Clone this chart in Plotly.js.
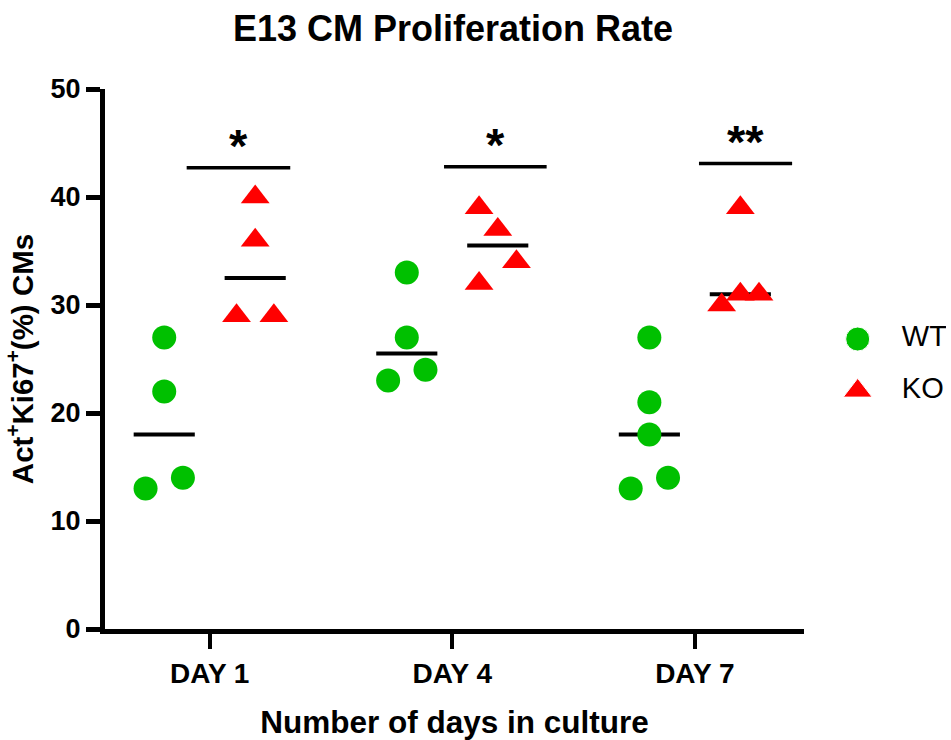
<!DOCTYPE html>
<html><head><meta charset="utf-8">
<script src="https://cdn.plot.ly/plotly-3.0.1.min.js"></script>
<style>html,body{margin:0;padding:0;background:#fff}</style>
</head><body>
<div id="chart" style="width:951px;height:740px"></div>
<script>
// ---- data ----
const categories = ['DAY 1', 'DAY 4', 'DAY 7'];
const seriesNames = ['WT', 'KO'];
const wtValues = [[27, 22, 13, 14], [33, 27, 24, 23], [27, 21, 18, 14, 13]];
const koValues = [[40, 36, 29, 29], [39, 37, 34, 32], [39, 31, 31, 30]];
const significance = ['*', '*', '**'];
const yTicks = [0, 10, 20, 30, 40, 50];

// ---- layout-only helpers (positions, not data) ----
const wtJitter = [[0, 0, -1, 1], [0, 0, 1, -1], [0, 0, 0, 1, -1]];
const koJitter = [[0, 0, -1, 1], [-1, 0, 1, -1], [0, 0, 1, -1]];
const groupOffset = 0.1875, jitterStep = 0.077, medianHalf = 0.126;
const sigSpan = [[-0.095, 0.332], [-0.034, 0.389], [0.017, 0.401]];
const sigLevel = [42.7, 42.8, 43.1];
const legendRow = [0.537, 0.441];
const FONT = 'Liberation Sans, Arial, sans-serif';
const GREEN = '#00c000', RED = '#ff0000';

function median(a) {
  const s = [...a].sort((p, q) => p - q), n = s.length;
  return n % 2 ? s[(n - 1) / 2] : (s[n / 2 - 1] + s[n / 2]) / 2;
}
function points(vals, jit, off) {
  const xs = [], ys = [];
  vals.forEach((v, i) => v.forEach((y, j) => { xs.push(i + off + jit[i][j] * jitterStep); ys.push(y); }));
  return { xs, ys };
}
const traces = [];
// median lines
[[wtValues, -groupOffset], [koValues, groupOffset]].forEach(([vals, off]) => {
  const xs = [], ys = [];
  vals.forEach((v, i) => { const m = median(v); xs.push(i + off - medianHalf, i + off + medianHalf, null); ys.push(m, m, null); });
  traces.push({ x: xs, y: ys, mode: 'lines', line: { color: '#000', width: 4 }, hoverinfo: 'skip', showlegend: false });
});
// significance bars
{
  const xs = [], ys = [];
  categories.forEach((c, i) => { xs.push(i + sigSpan[i][0], i + sigSpan[i][1], null); ys.push(sigLevel[i], sigLevel[i], null); });
  traces.push({ x: xs, y: ys, mode: 'lines', line: { color: '#000', width: 3.5 }, hoverinfo: 'skip', showlegend: false });
}
const wt = points(wtValues, wtJitter, -groupOffset);
const ko = points(koValues, koJitter, groupOffset);
traces.push({ x: wt.xs, y: wt.ys, mode: 'markers', name: seriesNames[0], marker: { symbol: 'circle', size: 24, color: GREEN, opacity: 1 }, showlegend: false });
traces.push({ x: ko.xs, y: ko.ys, mode: 'markers', name: seriesNames[1], marker: { symbol: 'triangle-up', size: 25, color: RED, opacity: 1 }, showlegend: false });
// custom legend (large markers) on auxiliary axes
traces.push({ x: [0.3, 0.3], y: legendRow, xaxis: 'x2', yaxis: 'y2', mode: 'markers',
  marker: { symbol: ['circle', 'triangle-up'], size: [24, 25], color: [GREEN, RED], opacity: 1 }, hoverinfo: 'skip', showlegend: false });
traces.push({ x: [0.65, 0.65], y: legendRow, xaxis: 'x2', yaxis: 'y2', mode: 'text', text: seriesNames,
  textposition: 'middle right', textfont: { family: FONT, size: 29, color: '#000' }, hoverinfo: 'skip', showlegend: false });

const annotations = categories.map((c, i) => ({
  x: i + (sigSpan[i][0] + sigSpan[i][1]) / 2, y: sigLevel[i], xref: 'x', yref: 'y',
  text: '<b>' + significance[i] + '</b>', showarrow: false, yanchor: 'bottom', yshift: -6,
  font: { family: FONT, size: 47, color: '#000' }
}));

const layout = {
  width: 951, height: 740,
  margin: { l: 105, r: 5, t: 89, b: 111, pad: 0 },
  paper_bgcolor: '#fff', plot_bgcolor: '#fff',
  showlegend: false,
  title: { text: '<b>E13 CM Proliferation Rate</b>', font: { family: FONT, size: 36, color: '#000' },
    xref: 'paper', x: (453 - 105) / 841, xanchor: 'center', yref: 'container', y: 0.962, yanchor: 'middle' },
  xaxis: {
    domain: [0, 699 / 841], range: [-0.4317, 2.45], tickmode: 'array', tickvals: [0, 1, 2], ticktext: categories.map(c => '<b>' + c + '</b>'),
    showgrid: false, zeroline: false, showline: true, linecolor: '#000', linewidth: 5,
    ticks: 'outside', ticklen: 15, tickwidth: 4, tickcolor: '#000',
    tickfont: { family: FONT, size: 28, color: '#000' },
    title: { text: '<b>Number of days in culture</b>', font: { family: FONT, size: 31.5, color: '#000' }, standoff: 28 }
  },
  yaxis: {
    range: [0, 50], tickmode: 'array', tickvals: yTicks, ticktext: yTicks.map(v => '<b>' + v + '</b>'),
    showgrid: false, zeroline: false, showline: true, linecolor: '#000', linewidth: 5,
    ticks: 'outside', ticklen: 14, tickwidth: 5, tickcolor: '#000',
    tickfont: { family: FONT, size: 27, color: '#000' },
    title: { text: '<b>Act<sup>+</sup>Ki67<sup>+</sup>(%) CMs</b>', font: { family: FONT, size: 29.5, color: '#000' }, standoff: 10 }
  },
  xaxis2: { domain: [0.85, 1], range: [0, 1], anchor: 'y2', visible: false, fixedrange: true },
  yaxis2: { domain: [0, 1], range: [0, 1], anchor: 'x2', visible: false, fixedrange: true },
  annotations: annotations
};
Plotly.newPlot('chart', traces, layout, { displayModeBar: false, staticPlot: true });
</script>
</body></html>
